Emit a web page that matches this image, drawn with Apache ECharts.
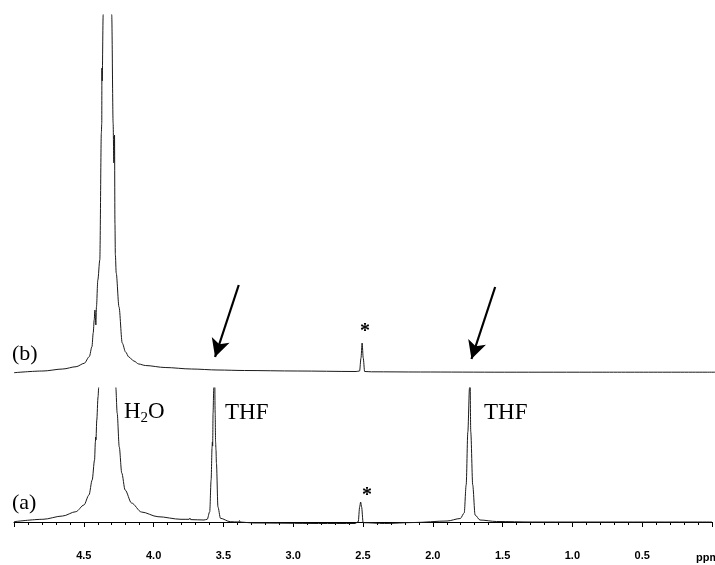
<!DOCTYPE html>
<html>
<head>
<meta charset="utf-8">
<script src="https://cdn.jsdelivr.net/npm/echarts@6/dist/echarts.min.js"></script>
<style>
html,body{margin:0;padding:0;background:#fff;}
#main{width:715px;height:565px;}
</style>
</head>
<body>
<div id="main"></div>
<script>
// ppm scale, drawn high -> low
var tickLabels = ['4.5', '4.0', '3.5', '3.0', '2.5', '2.0', '1.5', '1.0', '0.5'];

// spectrum (b): [ppm, intensity above its baseline]
var specB = [
	[5.000, 0.3], [4.793, 2], [4.652, 4], [4.557, 6.3], [4.499, 9.7], [4.463, 16.3],
	[4.444, 26.3], [4.435, 40], [4.428, 53], [4.423, 63], [4.416, 48], [4.412, 66],
	[4.402, 93], [4.388, 113], [4.377, 240], [4.374, 250], [4.373, 305], [4.371, 292],
	[4.364, 358], [4.333, 700], [4.303, 358], [4.293, 250], [4.288, 210], [4.283, 238],
	[4.280, 150], [4.277, 118], [4.271, 100], [4.251, 66], [4.228, 30], [4.204, 21],
	[4.181, 16], [4.145, 12], [4.110, 9], [4.063, 7.5], [3.922, 5.5], [3.734, 4],
	[3.545, 3], [3.357, 2.5], [2.980, 2], [2.560, 1.5], [2.535, 2], [2.525, 15],
	[2.517, 30], [2.509, 15], [2.499, 1.5], [2.450, 1.2], [2.100, 1], [1.500, 0.8],
	[0.800, 0.8], [0.000, 0.8]
];

// spectrum (a)
var specA = [
	[5.000, 0.3], [4.793, 2.7], [4.652, 6], [4.557, 10.3], [4.499, 17], [4.463, 27],
	[4.440, 42], [4.423, 62], [4.417, 80], [4.415, 85], [4.413, 82], [4.407, 102],
	[4.398, 125], [4.393, 135], [4.333, 900], [4.271, 135], [4.261, 109], [4.246, 75],
	[4.228, 49], [4.204, 32], [4.158, 19], [4.087, 10], [3.969, 5.3], [3.804, 2.7],
	[3.745, 2.7], [3.740, 4], [3.735, 2.4], [3.639, 2], [3.616, 2.7], [3.598, 10.3],
	[3.588, 42], [3.581, 75], [3.579, 80], [3.577, 76], [3.574, 109], [3.569, 134],
	[3.565, 190], [3.559, 109], [3.556, 80], [3.553, 72], [3.550, 59], [3.539, 15],
	[3.521, 3.7], [3.451, 0.3], [3.390, 0], [3.385, 1.5], [3.380, 0], [3.286, -1],
	[2.818, -1.5], [2.557, -1.5], [2.534, 0.3], [2.524, 15], [2.517, 20], [2.510, 15],
	[2.499, -0.7], [2.345, -1.5], [2.133, -0.5], [1.898, 1], [1.803, 3.5], [1.775, 9],
	[1.761, 37], [1.749, 90], [1.737, 134], [1.736, 190], [1.728, 90], [1.714, 37],
	[1.697, 7], [1.662, 2], [1.544, 0.5], [1.285, 0], [0.600, 0], [0.000, 0]
];

// arrows pointing at the missing THF signals in (b): [from, to]
var arrowB1 = [[3.397, 88], [3.566, 16]];
var arrowB2 = [[1.568, 86], [1.737, 14]];

var myChart = echarts.init(document.getElementById('main'));

var serifFont = '"Liberation Serif", "Times New Roman", serif';

function xAx(idx, visible) {
	return {
		type : 'value',
		gridIndex : idx,
		inverse : true,
		min : 0,
		max : 5,
		interval : 0.5,
		show : visible,
		axisLine : { lineStyle : { color : '#000', width : 1 } },
		axisTick : { show : true, length : 5, lineStyle : { color : '#000' } },
		minorTick : { show : true, splitNumber : 5, length : 3, lineStyle : { color : '#000' } },
		splitLine : { show : false },
		axisLabel : {
			color : '#000',
			fontFamily : '"Liberation Sans", Arial, sans-serif',
			fontWeight : 'bold',
			fontSize : 11,
			margin : 6,
			formatter : function(v) {
				var s = v.toFixed(1);
				return tickLabels.indexOf(s) >= 0 ? s : '';
			}
		}
	};
}

function arrowLine(a) {
	return [{ coord : a[0] }, { coord : a[1] }];
}

option = {
	backgroundColor : '#fff',
	animation : false,
	grid : [
		{ left : 14, right : -7, top : 15, bottom : 182 },
		{ left : 14, right : -7, top : 388, bottom : 21 }
	],
	xAxis : [ xAx(0, false), xAx(1, true) ],
	yAxis : [
		{ type : 'value', gridIndex : 0, min : -10, max : 358, show : false },
		{ type : 'value', gridIndex : 1, min : -22, max : 134, show : false }
	],
	series : [
		{
			name : '(b)',
			type : 'line',
			xAxisIndex : 0,
			yAxisIndex : 0,
			data : specB,
			showSymbol : false,
			smooth : 0.3,
			smoothMonotone : 'x',
			clip : true,
			lineStyle : { color : '#1a1a1a', width : 1 },
			markLine : {
				silent : true,
				symbol : ['none', 'arrow'],
				symbolSize : [14, 18],
				label : { show : false },
				lineStyle : { color : '#000', width : 2.2, type : 'solid' },
				data : [ arrowLine(arrowB1), arrowLine(arrowB2) ]
			}
		},
		{
			name : '(a)',
			type : 'line',
			xAxisIndex : 1,
			yAxisIndex : 1,
			data : specA,
			showSymbol : false,
			smooth : 0.3,
			smoothMonotone : 'x',
			clip : true,
			lineStyle : { color : '#1a1a1a', width : 1 }
		}
	],
	graphic : [
		{ type : 'text', x : 12, y : 354, style : { text : '(b)', font : '22px ' + serifFont, fill : '#000', verticalAlign : 'middle' } },
		{ type : 'text', x : 12, y : 503, style : { text : '(a)', font : '22px ' + serifFont, fill : '#000', verticalAlign : 'middle' } },
		{ type : 'text', x : 124, y : 412, style : {
			text : '{n|H}{s|2}{n|O}', fill : '#000', verticalAlign : 'middle',
			rich : {
				n : { fontFamily : serifFont, fontSize : 23, fill : '#000' },
				s : { fontFamily : serifFont, fontSize : 15, fill : '#000', padding : [12, 0, 0, 0] }
			}
		} },
		{ type : 'text', x : 225, y : 413, style : { text : 'THF', font : '23px ' + serifFont, fill : '#000', verticalAlign : 'middle' } },
		{ type : 'text', x : 484, y : 413, style : { text : 'THF', font : '23px ' + serifFont, fill : '#000', verticalAlign : 'middle' } },
		{ type : 'text', x : 365, y : 332, style : { text : '*', font : 'bold 20px ' + serifFont, fill : '#000', align : 'center', verticalAlign : 'middle' } },
		{ type : 'text', x : 367, y : 496, style : { text : '*', font : 'bold 20px ' + serifFont, fill : '#000', align : 'center', verticalAlign : 'middle' } },
		{ type : 'text', x : 696, y : 558, style : { text : 'ppm', font : 'bold 11px "Liberation Sans", Arial, sans-serif', fill : '#000', verticalAlign : 'middle' } }
	]
};
myChart.setOption(option);
</script>
</body>
</html>
